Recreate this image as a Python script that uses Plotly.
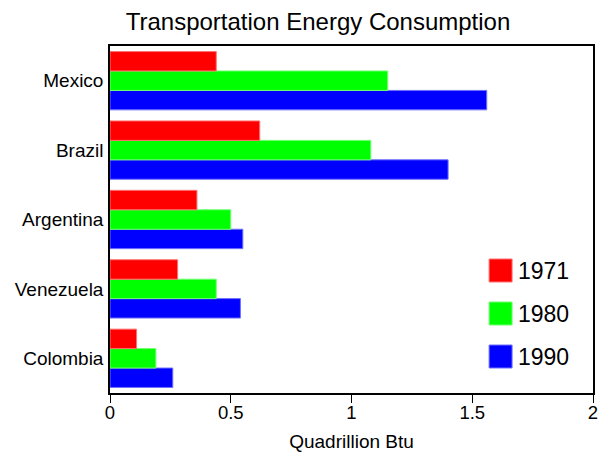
import plotly.graph_objects as go

countries = ["Colombia", "Venezuela", "Argentina", "Brazil", "Mexico"]
years = ["1971", "1980", "1990"]
v1971 = [0.11, 0.28, 0.36, 0.62, 0.44]
v1980 = [0.19, 0.44, 0.50, 1.08, 1.15]
v1990 = [0.26, 0.54, 0.55, 1.40, 1.56]
x_ticks = [0, 0.5, 1, 1.5, 2]
x_tick_labels = ["0", "0.5", "1", "1.5", "2"]

colors = {"1971": "#ff0000", "1980": "#00ff00", "1990": "#0000ff"}
edges = {"1971": "#ff7070", "1980": "#70ff70", "1990": "#7070ff"}
series = {"1971": v1971, "1980": v1980, "1990": v1990}

FONT = "Liberation Sans, Arial, sans-serif"

fig = go.Figure()
# plotly stacks horizontal group members bottom-up, so add 1990 first
for yr in reversed(years):
    fig.add_trace(go.Bar(
        y=countries, x=series[yr], orientation="h", name=yr,
        marker=dict(color=colors[yr], line=dict(color=edges[yr], width=1)),
        showlegend=False,
    ))

# custom legend with large swatches
shapes = []
annotations = []
sq_tops = [259, 302, 345]
for i, yr in enumerate(years):
    top = sq_tops[i]
    shapes.append(dict(type="rect", xref="paper", yref="paper",
                       x0=(489 - 109.5) / 483.5, x1=(512 - 109.5) / 483.5,
                       y0=(393 - (top + 23)) / 347, y1=(393 - top) / 347,
                       fillcolor=colors[yr], line=dict(color=edges[yr], width=1)))
    annotations.append(dict(xref="paper", yref="paper",
                            x=(516 - 109.5) / 483.5, y=(393 - (top + 12)) / 347,
                            text=yr, showarrow=False, xanchor="left", yanchor="middle",
                            font=dict(family=FONT, size=23, color="black")))

W, H = 598, 452
fig.update_layout(
    width=W, height=H,
    margin=dict(l=109.5, r=5, t=46, b=59, pad=0),
    paper_bgcolor="white", plot_bgcolor="white",
    barmode="group", bargap=0.16, bargroupgap=0,
    title=dict(text="Transportation Energy Consumption", x=318 / W, xanchor="center",
               y=1 - 21.5 / H, yanchor="middle",
               font=dict(family=FONT, size=24, color="black")),
    font=dict(family=FONT, color="black"),
    shapes=shapes, annotations=annotations,
    xaxis=dict(range=[0, 2], tickvals=x_ticks, ticktext=x_tick_labels, automargin=False,
               showgrid=False, zeroline=False, showline=True, linecolor="black",
               linewidth=1.5, mirror=True, ticks="outside", ticklen=8, tickcolor="black",
               ticklabeloverflow="allow", ticklabelstandoff=-6,
               tickfont=dict(size=18.5), title=dict(text="Quadrillion Btu", font=dict(size=19), standoff=14)),
    yaxis=dict(range=[-0.5, 4.5], showgrid=False, zeroline=False, showline=True, automargin=False,
               linecolor="black", linewidth=1.5, mirror=True, ticks="",
               tickfont=dict(size=19), ticklabelstandoff=1),
)

fig.write_html("out.html", config={"displayModeBar": False},
               post_script="document.body.style.margin='0';document.body.style.overflow='hidden';")
